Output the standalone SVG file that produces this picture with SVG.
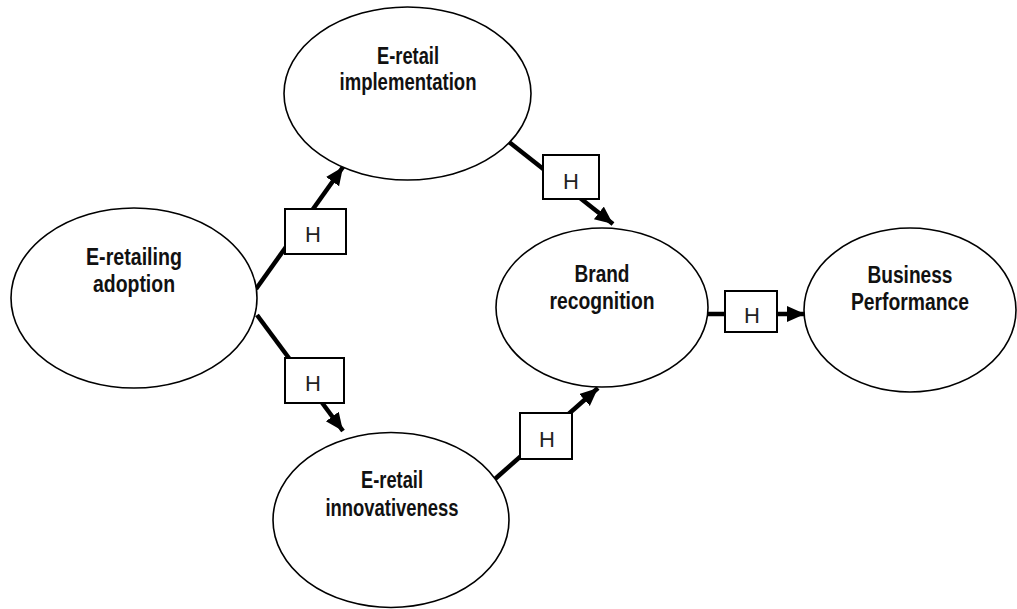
<svg xmlns="http://www.w3.org/2000/svg" width="1017" height="609" viewBox="0 0 1017 609">
<style>
.node ellipse{fill:#fff;stroke:#000;stroke-width:1.6}
.lbl{font-family:"Liberation Sans",Arial,sans-serif;font-weight:bold;font-size:23px;text-anchor:middle;fill:#111}
.edge line{stroke:#000;stroke-width:4.5}
.hbox rect{fill:#fff;stroke:#000;stroke-width:2}
.hbox text{font-family:"Liberation Sans",Arial,sans-serif;font-size:22px;text-anchor:middle;fill:#222}
</style>
<defs>
<marker id="arr" markerUnits="userSpaceOnUse" markerWidth="20" markerHeight="18" refX="18" refY="8" orient="auto">
<path d="M0,0 L18,8 L0,16 Z" fill="#000"/>
</marker>
</defs>
<rect width="1017" height="609" fill="#fff"/>
<g id="connectors" class="edge">
<line x1="256" y1="289" x2="343" y2="167" marker-end="url(#arr)"/>
<line x1="257" y1="315" x2="343" y2="431" marker-end="url(#arr)"/>
<line x1="509" y1="142" x2="613" y2="224" marker-end="url(#arr)"/>
<line x1="495" y1="479" x2="598" y2="388" marker-end="url(#arr)"/>
<line x1="707" y1="314" x2="805" y2="314" marker-end="url(#arr)"/>
</g>
<g id="node-adoption" class="node">
<ellipse cx="134" cy="298" rx="123" ry="90"/>
<text class="lbl" x="134" y="265" textLength="96" lengthAdjust="spacingAndGlyphs">E-retailing</text>
<text class="lbl" x="134" y="292" textLength="82" lengthAdjust="spacingAndGlyphs">adoption</text>
</g>
<g id="node-implementation" class="node">
<ellipse cx="407.5" cy="93.5" rx="123.5" ry="86.5"/>
<text class="lbl" x="408" y="64" textLength="62" lengthAdjust="spacingAndGlyphs">E-retail</text>
<text class="lbl" x="408" y="90" textLength="137" lengthAdjust="spacingAndGlyphs">implementation</text>
</g>
<g id="node-innovativeness" class="node">
<ellipse cx="391" cy="520" rx="118" ry="87.5"/>
<text class="lbl" x="392" y="488" textLength="62" lengthAdjust="spacingAndGlyphs">E-retail</text>
<text class="lbl" x="392" y="516" textLength="133" lengthAdjust="spacingAndGlyphs">innovativeness</text>
</g>
<g id="node-brand" class="node">
<ellipse cx="602" cy="307.5" rx="106" ry="79.5"/>
<text class="lbl" x="602" y="282" textLength="55" lengthAdjust="spacingAndGlyphs">Brand</text>
<text class="lbl" x="602" y="309" textLength="105" lengthAdjust="spacingAndGlyphs">recognition</text>
</g>
<g id="node-performance" class="node">
<ellipse cx="910" cy="310" rx="106" ry="82"/>
<text class="lbl" x="910" y="283" textLength="85" lengthAdjust="spacingAndGlyphs">Business</text>
<text class="lbl" x="910" y="310" textLength="118" lengthAdjust="spacingAndGlyphs">Performance</text>
</g>
<g id="h1" class="hbox"><rect x="285" y="209" width="61" height="45"/><text x="313" y="242">H</text></g>
<g id="h2" class="hbox"><rect x="285" y="358" width="59" height="45"/><text x="313" y="391">H</text></g>
<g id="h3" class="hbox"><rect x="543" y="155" width="56" height="44"/><text x="571" y="189">H</text></g>
<g id="h4" class="hbox"><rect x="520" y="413" width="52" height="46"/><text x="547" y="447">H</text></g>
<g id="h5" class="hbox"><rect x="725" y="291" width="52" height="41"/><text x="752" y="323">H</text></g>
</svg>
